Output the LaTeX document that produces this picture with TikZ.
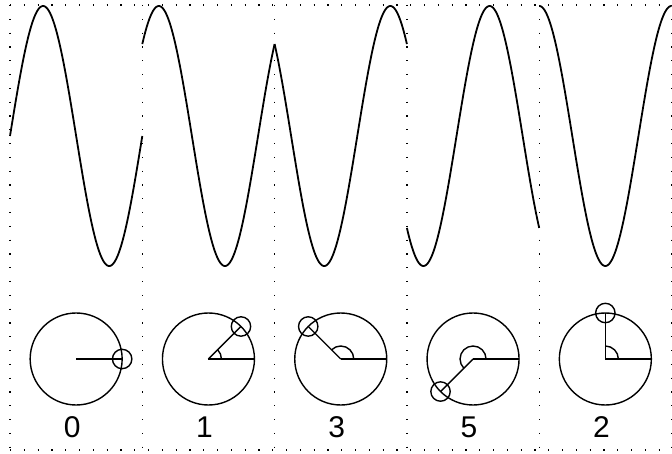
\documentclass[tikz,border=0pt]{standalone}
\usepackage{fontspec}
\setmainfont{Liberation Sans}
\begin{document}
\begin{tikzpicture}[x=1pt,y=1pt,
  dotline/.style={line width=1.2pt, black, dash pattern=on 1.2pt off 12.6pt},
  wave/.style={line width=1.8pt, line join=round},
  wheel/.style={circle, draw, line width=1.4pt, minimum size=92pt, inner sep=0pt, outer sep=0pt},
  marker/.style={circle, draw, line width=1.4pt, minimum size=19.4pt, inner sep=0pt, outer sep=0pt},
  spoke/.style={line width=1.4pt},
  panellabel/.style={anchor=base, font=\fontsize{30}{36}\selectfont, inner sep=0pt}]
\useasboundingbox (0,0) rectangle (672,453);
% dotted frame
\coordinate (bl) at (10,3);
\coordinate (br) at (671.5,3);
\coordinate (tl) at (10,448);
\coordinate (tr) at (671.5,448);
\draw[dotline] (tl) -- (tr);
\draw[dotline] (bl) -- (br);
\foreach \i in {0,...,5}{
  \coordinate (vb\i) at ({10+132.3*\i},3);
  \coordinate (vt\i) at ({10+132.3*\i},448);
  \draw[dotline] (vt\i) -- (vb\i);
}
% panels
\foreach \i/\lab in {0/0,1/1,2/3,3/5,4/2}{
  \pgfmathsetmacro\xl{10+132.3*\i}
  \pgfmathsetmacro\xc{\xl+66.15}
  \pgfmathsetmacro\ph{45*\lab}
  \draw[wave] plot[domain=0:360, samples=180, smooth] ({\xl+0.3675*\x},{317+130*sin(\x+\ph)});
  \node[wheel] (c\i) at (\xc,94) {};
  \node[marker] (m\i) at ({\xc+46*cos(\ph)},{94+46*sin(\ph)}) {};
  \draw[spoke] (c\i.center) -- (c\i.0);
  \draw[spoke] (c\i.center) -- (m\i.center);
  \ifnum\lab>0
    \draw[spoke] ([shift={(0:13)}]c\i.center) arc[start angle=0, end angle=\ph, radius=13];
  \fi
  \node[panellabel] (lab\i) at ({\xc-4},16) {\lab};
}
\end{tikzpicture}
\end{document}
